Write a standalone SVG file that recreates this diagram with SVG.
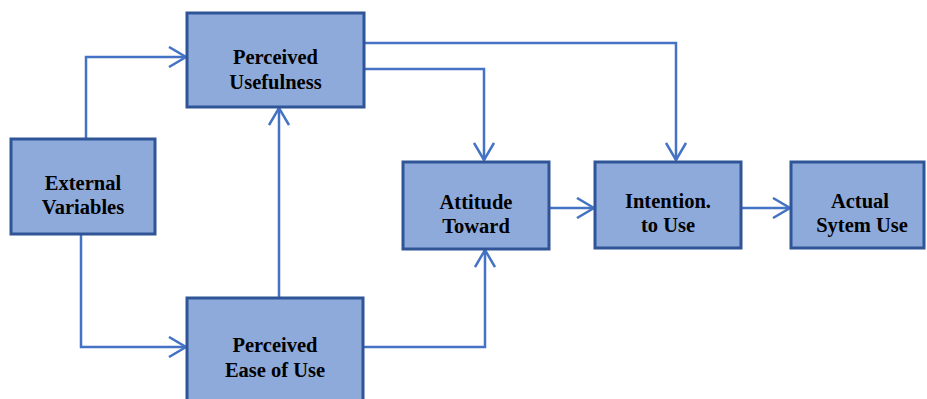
<svg xmlns="http://www.w3.org/2000/svg" width="927" height="399" viewBox="0 0 927 399">
<style>
.box{fill:#8EAADB;stroke:#2F5597;stroke-width:3}
.lbl{font-family:"Liberation Serif","Times New Roman",serif;font-weight:bold;font-size:20.5px;fill:#000;text-anchor:middle}
.conn{fill:none;stroke:#4472C4;stroke-width:2.5;marker-end:url(#arr)}
</style>
<defs>
<marker id="arr" markerUnits="userSpaceOnUse" viewBox="0 0 20 22" markerWidth="20" markerHeight="22" refX="18" refY="11" orient="auto">
<path d="M1,1 L18,11 L1,21" fill="none" stroke="#4472C4" stroke-width="2.5"/>
</marker>
</defs>
<rect width="927" height="399" fill="#fff"/>
<g id="connectors">
<path class="conn" d="M86,139 V57 H186"/>
<path class="conn" d="M81,234 V347 H186"/>
<path class="conn" d="M279,298 V108"/>
<path class="conn" d="M364,69 H484 V160"/>
<path class="conn" d="M364,43 H676 V160"/>
<path class="conn" d="M363,347 H485 V250"/>
<path class="conn" d="M549,208 H594"/>
<path class="conn" d="M741,208 H790"/>
</g>
<g id="external-variables">
<rect class="box" x="11" y="139" width="144" height="95"/>
<text class="lbl" x="83" y="190">External</text>
<text class="lbl" x="83" y="214">Variables</text>
</g>
<g id="perceived-usefulness">
<rect class="box" x="187" y="13" width="177" height="94"/>
<text class="lbl" x="275.5" y="64">Perceived</text>
<text class="lbl" x="275.5" y="89">Usefulness</text>
</g>
<g id="perceived-ease-of-use">
<rect class="box" x="187" y="298" width="176" height="112"/>
<text class="lbl" x="275" y="352">Perceived</text>
<text class="lbl" x="275" y="377">Ease of Use</text>
</g>
<g id="attitude-toward">
<rect class="box" x="403" y="162" width="146" height="87"/>
<text class="lbl" x="476" y="209">Attitude</text>
<text class="lbl" x="476" y="233">Toward</text>
</g>
<g id="intention-to-use">
<rect class="box" x="595" y="162" width="146" height="86"/>
<text class="lbl" x="668" y="208">Intention.</text>
<text class="lbl" x="668" y="232">to Use</text>
</g>
<g id="actual-system-use">
<rect class="box" x="791" y="162" width="133" height="86"/>
<text class="lbl" x="860" y="208">Actual</text>
<text class="lbl" x="862" y="232">Sytem Use</text>
</g>
</svg>
